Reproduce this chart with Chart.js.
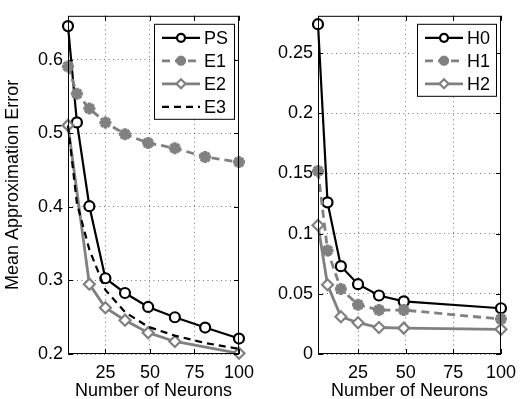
<!DOCTYPE html>
<html>
<head>
<meta charset="utf-8">
<script src="https://cdn.jsdelivr.net/npm/chart.js@4.4.1/dist/chart.umd.min.js"></script>
<style>
  html, body { margin: 0; padding: 0; background: #fff; }
  #wrap { position: relative; width: 524px; height: 399px; }
  canvas { position: absolute; top: 0; }
</style>
</head>
<body>
<div id="wrap">
  <canvas id="leftChart" width="262" height="399" style="left:0"></canvas>
  <canvas id="rightChart" width="262" height="399" style="left:262px"></canvas>
</div>
<script>
// neuron counts (x)
const neurons = [4, 9, 16, 25, 36, 49, 64, 81, 100];
const neuronsE2 = [4, 16, 25, 36, 49, 64, 100];
const neuronsH = [4, 9, 16, 25, 36, 49, 100];

// left panel
const psErr = [0.646, 0.515, 0.401, 0.303, 0.283, 0.264, 0.250, 0.236, 0.221];
const e1Err = [0.591, 0.554, 0.534, 0.515, 0.499, 0.487, 0.480, 0.468, 0.461];
const e2Err = [0.511, 0.295, 0.263, 0.246, 0.229, 0.217, 0.201];
const e3Err = [0.511, 0.405, 0.342, 0.287, 0.257, 0.237, 0.225, 0.215, 0.207];

// right panel
const h0Err = [0.274, 0.126, 0.073, 0.058, 0.0486, 0.0437, 0.038];
const h1Err = [0.152, 0.086, 0.054, 0.041, 0.0365, 0.0365, 0.029];
const h2Err = [0.107, 0.0575, 0.031, 0.026, 0.022, 0.0215, 0.0205];

// ticks
const xTicks = [25, 50, 75, 100];
const yTicksLeft = [0.2, 0.3, 0.4, 0.5, 0.6];
const yTicksRight = [0, 0.05, 0.1, 0.15, 0.2, 0.25];

const GRAY = '#808080';
const FONT = '"Liberation Sans", Arial, Helvetica, sans-serif';
const FS = 18;

Chart.defaults.font.family = FONT;
Chart.defaults.font.size = FS;
Chart.defaults.color = '#000';

const pts = (xs, ys) => xs.map((x, i) => ({ x, y: ys[i] }));

const STYLES = {
  solidCircle: { borderColor: '#000', borderWidth: 2.2, pointStyle: 'circle', pointRadius: 5,
    pointBorderWidth: 2.2, pointBorderColor: '#000', pointBackgroundColor: '#fff' },
  dashStar: { borderColor: GRAY, borderWidth: 2.8, borderDash: [8, 5], pointStyle: 'star', pointRadius: 6,
    pointBorderWidth: 3.5, pointBorderColor: GRAY, pointBackgroundColor: GRAY },
  solidDiamond: { borderColor: GRAY, borderWidth: 2.8, pointStyle: 'rectRot', pointRadius: 5.5,
    pointBorderWidth: 2.2, pointBorderColor: GRAY, pointBackgroundColor: '#fff' },
  dashBlack: { borderColor: '#000', borderWidth: 2.2, borderDash: [7, 5], pointRadius: 0 },
};

function drawMarker(ctx, style, r, x, y, d) {
  ctx.save();
  ctx.setLineDash([]);
  ctx.lineWidth = d.pointBorderWidth;
  ctx.strokeStyle = d.pointBorderColor;
  ctx.fillStyle = d.pointBackgroundColor;
  ctx.beginPath();
  if (style === 'circle') {
    ctx.arc(x, y, r, 0, Math.PI * 2);
    ctx.fill(); ctx.stroke();
  } else if (style === 'rectRot') {
    ctx.moveTo(x, y - r); ctx.lineTo(x + r, y); ctx.lineTo(x, y + r); ctx.lineTo(x - r, y); ctx.closePath();
    ctx.fill(); ctx.stroke();
  } else if (style === 'star') {
    for (let k = 0; k < 4; k++) {
      const a = k * Math.PI / 4;
      ctx.moveTo(x - Math.cos(a) * r, y - Math.sin(a) * r);
      ctx.lineTo(x + Math.cos(a) * r, y + Math.sin(a) * r);
    }
    ctx.stroke();
  }
  ctx.restore();
}

// box, inward ticks and legend drawn over the plot area
const frameLegend = {
  id: 'frameLegend',
  afterDatasetsDraw(chart) {
    const { ctx, chartArea: a, scales: { x, y } } = chart;
    ctx.save();
    ctx.strokeStyle = '#000';
    ctx.lineWidth = 1;
    ctx.setLineDash([]);
    ctx.strokeRect(a.left + 0.5, a.top + 0.5, a.right - a.left - 1, a.bottom - a.top - 1);
    ctx.beginPath();
    x.ticks.forEach(t => {
      const px = Math.round(x.getPixelForValue(t.value)) + 0.5;
      ctx.moveTo(px, a.bottom); ctx.lineTo(px, a.bottom - 5);
      ctx.moveTo(px, a.top); ctx.lineTo(px, a.top + 5);
    });
    y.ticks.forEach(t => {
      const py = Math.round(y.getPixelForValue(t.value)) + 0.5;
      ctx.moveTo(a.left, py); ctx.lineTo(a.left + 5, py);
      ctx.moveTo(a.right, py); ctx.lineTo(a.right - 5, py);
    });
    ctx.stroke();

    // legend
    const ds = chart.data.datasets;
    ctx.font = FS + 'px ' + FONT;
    const textW = Math.max(...ds.map(d => ctx.measureText(d.label).width));
    const rowH = 23, sampleW = 38;
    const boxW = 8 + sampleW + 4 + textW + 6;
    const boxH = 26 + (ds.length - 1) * rowH;
    const bx = Math.round(a.right - 5 - boxW), by = a.top + 8;
    ctx.fillStyle = '#fff';
    ctx.fillRect(bx, by, boxW, boxH);
    ctx.strokeRect(bx + 0.5, by + 0.5, boxW, boxH);
    ds.forEach((d, i) => {
      const cy = by + 14 + i * rowH;
      const x0 = bx + 8;
      ctx.save();
      ctx.setLineDash(d.borderDash || []);
      ctx.strokeStyle = d.borderColor;
      ctx.lineWidth = d.borderWidth;
      ctx.beginPath();
      ctx.moveTo(x0, cy); ctx.lineTo(x0 + sampleW, cy);
      ctx.stroke();
      ctx.restore();
      if (d.pointRadius > 0) drawMarker(ctx, d.pointStyle, d.pointRadius - 1, x0 + sampleW / 2, cy, d);
      ctx.fillStyle = '#000';
      ctx.textBaseline = 'middle';
      ctx.textAlign = 'left';
      ctx.fillText(d.label, x0 + sampleW + 4, cy + 1);
    });
    ctx.restore();
  }
};

function makeChart(id, datasets, yMax, yMin, yTicks, yWidth, padRight, yTitle) {
  return new Chart(document.getElementById(id), {
    type: 'line',
    data: { datasets },
    options: {
      responsive: false,
      animation: false,
      events: [],
      layout: { padding: { left: 0, right: padRight, top: 7, bottom: 0 } },
      plugins: { legend: { display: false }, tooltip: { enabled: false } },
      scales: {
        x: {
          type: 'linear',
          min: 4, max: 100,
          afterBuildTicks: s => { s.ticks = xTicks.map(v => ({ value: v })); },
          afterFit: s => { s.height = 45; },
          ticks: { padding: 8, callback: v => String(v), maxRotation: 0 },
          grid: { color: 'rgba(0,0,0,0.55)', drawTicks: false },
          border: { display: false, dash: [1, 3.5] },
          title: { display: true, text: 'Number of Neurons', font: { lineHeight: 1 }, padding: { top: 0, bottom: -1 } },
        },
        y: {
          type: 'linear',
          min: yMin, max: yMax,
          afterBuildTicks: s => { s.ticks = yTicks.map(v => ({ value: v })); },
          afterFit: s => { s.width = yWidth; },
          ticks: { padding: 5, callback: v => String(v) },
          grid: { color: 'rgba(0,0,0,0.55)', drawTicks: false },
          border: { display: false, dash: [1, 3.5] },
          title: { display: !!yTitle, text: yTitle || '', padding: { top: 2, bottom: 0 } },
        },
      },
    },
    plugins: [frameLegend],
  });
}

const leftSets = [
  { label: 'PS', data: pts(neurons, psErr), ...STYLES.solidCircle },
  { label: 'E1', data: pts(neurons, e1Err), ...STYLES.dashStar },
  { label: 'E2', data: pts(neuronsE2, e2Err), ...STYLES.solidDiamond },
  { label: 'E3', data: pts(neurons, e3Err), ...STYLES.dashBlack },
].map((d, i, arr) => ({ ...d, clip: false, tension: 0, order: arr.length - i }));

const rightSets = [
  { label: 'H0', data: pts(neuronsH, h0Err), ...STYLES.solidCircle },
  { label: 'H1', data: pts(neuronsH, h1Err), ...STYLES.dashStar },
  { label: 'H2', data: pts(neuronsH, h2Err), ...STYLES.solidDiamond },
].map((d, i, arr) => ({ ...d, clip: false, tension: 0, order: arr.length - i }));

makeChart('leftChart', leftSets, 0.66, 0.2, yTicksLeft, 68, 10, 'Mean Approximation Error');
makeChart('rightChart', rightSets, 0.281, 0, yTicksRight, 56, 16, null);
</script>
</body>
</html>
